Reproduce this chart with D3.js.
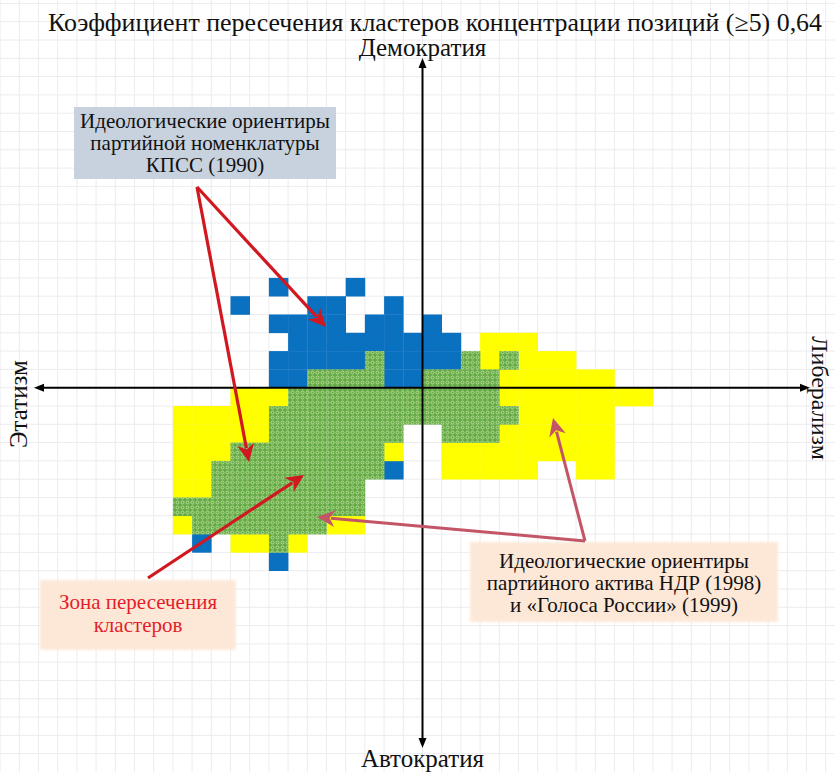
<!DOCTYPE html>
<html>
<head>
<meta charset="utf-8">
<script src="https://cdn.jsdelivr.net/npm/d3@7"></script>
<style>
  body { margin: 0; background: #fff; }
  svg { display: block; }
  text { font-family: "Liberation Serif", "DejaVu Serif", serif; }
</style>
</head>
<body>
<svg id="chart" width="835" height="772"></svg>
<script>
// Cells of the ideological-position grid, stored as runs: [row, firstCol, lastCol].
// Column 0 starts at the vertical axis and grows to the right (liberalism);
// row 0 sits just above the horizontal axis and grows upward (democracy).
const blueRuns = [
  [5, -8, -8], [5, -4, -4],
  [4, -10, -10], [4, -6, -5], [4, -2, -2],
  [3, -8, -5], [3, -3, -2], [3, 0, 0],
  [2, -7, 1],
  [1, -8, -4], [1, -2, 1],
  [0, -8, -7], [0, -2, -1],
  [-5, -2, -2],
  [-9, -12, -12],
  [-10, -8, -8]
];
const yellowRuns = [
  [2, 3, 5],
  [1, 3, 3], [1, 5, 7],
  [0, 4, 9],
  [-1, -10, -8], [-1, 4, 11],
  [-2, -13, -9], [-2, 5, 9],
  [-3, -13, -9], [-3, 4, 9],
  [-4, -13, -11], [-4, -2, -2], [-4, 1, 9],
  [-5, -13, -12], [-5, 1, 5], [-5, 8, 9],
  [-6, -13, -12],
  [-8, -13, -13], [-8, -5, -4],
  [-9, -10, -9], [-9, -7, -7]
];
const overlapRuns = [
  [1, -3, -3], [1, 2, 2], [1, 4, 4],
  [0, -6, -3], [0, 0, 3],
  [-1, -7, 3],
  [-2, -8, 4],
  [-3, -8, -2], [-3, 1, 3],
  [-4, -10, -3],
  [-5, -11, -3],
  [-6, -11, -4],
  [-7, -13, -4],
  [-8, -12, -6],
  [-9, -8, -8]
];

const titleText = "Коэффициент пересечения кластеров концентрации позиций (≥5) 0,64";
const axisLabels = { top: "Демократия", bottom: "Автократия", left: "Этатизм", right: "Либерализм" };
const nomenklaturaLines = ["Идеологические ориентиры", "партийной номенклатуры", "КПСС (1990)"];
const overlapLines = ["Зона пересечения", "кластеров"];
const activistLines = ["Идеологические ориентиры", "партийного актива НДР (1998)", "и «Голоса России» (1999)"];

const W = 835, H = 772;
const svg = d3.select("#chart");

// one grid unit on each axis
const x = d3.scaleLinear().domain([0, 1]).range([422.5, 441.7]);
const y = d3.scaleLinear().domain([0, 1]).range([387.7, 369.4]);

const defs = svg.append("defs");
const pat = defs.append("pattern")
  .attr("id", "overlapTex").attr("patternUnits", "userSpaceOnUse")
  .attr("width", 5).attr("height", 5);
pat.append("rect").attr("width", 5).attr("height", 5).attr("fill", "#66a947");
pat.append("circle").attr("cx", 2.5).attr("cy", 2.5).attr("r", 1.5)
  .attr("fill", "none").attr("stroke", "#b9e196").attr("stroke-width", 0.9);
defs.append("filter").attr("id", "soft")
  .append("feGaussianBlur").attr("stdDeviation", 1.6);

// background grid
const grid = svg.append("g").attr("stroke", "#ececf0").attr("stroke-width", 1);
d3.range(-22, 23).map(c => x(c)).filter(v => v > 0 && v < W).forEach(v =>
  grid.append("line").attr("x1", v).attr("x2", v).attr("y1", 0).attr("y2", H));
d3.range(-22, 23).map(r => y(r)).filter(v => v > 0 && v < H).forEach(v =>
  grid.append("line").attr("y1", v).attr("y2", v).attr("x1", 0).attr("x2", W));

// expand runs into cells
function cells(runs) {
  const out = [];
  runs.forEach(([r, a, b]) => { for (let c = a; c <= b; c++) out.push({ r, c }); });
  return out;
}
function drawCells(runs, fill) {
  svg.append("g").selectAll("rect").data(cells(runs)).join("rect")
    .attr("x", d => x(d.c)).attr("y", d => y(d.r + 1))
    .attr("width", d => x(d.c + 1) - x(d.c) + 0.3)
    .attr("height", d => y(d.r) - y(d.r + 1) + 0.3)
    .attr("fill", fill);
}
drawCells(blueRuns, "#0a70c0");
drawCells(yellowRuns, "#ffff00");
drawCells(overlapRuns, "url(#overlapTex)");

// axes with arrow tips
const ax = svg.append("g").attr("stroke", "#000").attr("stroke-width", 2);
const cx0 = x(0), cy0 = y(0);
ax.append("line").attr("x1", cx0).attr("x2", cx0).attr("y1", 62).attr("y2", 744);
ax.append("line").attr("y1", cy0).attr("y2", cy0).attr("x1", 38).attr("x2", 806);
const tips = svg.append("g").attr("fill", "#000");
tips.append("path").attr("d", `M${cx0},58 L${cx0 - 4},68 L${cx0 + 4},68 Z`);
tips.append("path").attr("d", `M${cx0},748 L${cx0 - 4},738 L${cx0 + 4},738 Z`);
tips.append("path").attr("d", `M34,${cy0} L44,${cy0 - 4} L44,${cy0 + 4} Z`);
tips.append("path").attr("d", `M810,${cy0} L800,${cy0 - 4} L800,${cy0 + 4} Z`);

// title and pole labels
svg.append("text").attr("x", 48).attr("y", 31)
  .attr("font-size", 25).attr("fill", "#111")
  .attr("textLength", 774).attr("lengthAdjust", "spacingAndGlyphs")
  .text(titleText);
svg.append("text").attr("x", cx0).attr("y", 56).attr("text-anchor", "middle")
  .attr("font-size", 25).attr("fill", "#111").text(axisLabels.top);
svg.append("text").attr("x", cx0).attr("y", 767).attr("text-anchor", "middle")
  .attr("font-size", 25).attr("fill", "#111").text(axisLabels.bottom);
svg.append("text").attr("transform", "translate(27,404) rotate(-90)").attr("text-anchor", "middle")
  .attr("font-size", 25).attr("fill", "#111").text(axisLabels.left);
svg.append("text").attr("transform", "translate(812,398) rotate(90)").attr("text-anchor", "middle")
  .attr("font-size", 24).attr("fill", "#111").text(axisLabels.right);

// callout boxes
function box(x0, y0, w, h, fill, lines, cx, base, step, size, color, soft) {
  const g = svg.append("g");
  const r = g.append("rect").attr("x", x0).attr("y", y0).attr("width", w).attr("height", h).attr("fill", fill);
  if (soft) r.attr("filter", "url(#soft)");
  lines.forEach((t, i) => g.append("text").attr("x", cx).attr("y", base + i * step)
    .attr("text-anchor", "middle").attr("font-size", size)
    .attr("fill", color).text(t));
}
box(74, 107, 262, 72, "#c8d2de", nomenklaturaLines, 205, 128, 22, 21, "#111", false);
box(40, 580, 196, 70, "#fde8d8", overlapLines, 138, 609, 23, 21, "#e31e2a", true);
box(470, 542, 308, 80, "#fde8d8", activistLines, 624, 568, 22, 21, "#111", true);

// pointer arrows
function arrow(x1, y1, x2, y2, color, w) {
  const ang = Math.atan2(y2 - y1, x2 - x1), L = 18, half = 8.5;
  const bx = x2 - L * Math.cos(ang), by = y2 - L * Math.sin(ang);
  svg.append("line").attr("x1", x1).attr("y1", y1)
    .attr("x2", x2 - (L - 4) * Math.cos(ang)).attr("y2", y2 - (L - 4) * Math.sin(ang))
    .attr("stroke", color).attr("stroke-width", w);
  const px = -Math.sin(ang) * half, py = Math.cos(ang) * half;
  svg.append("path")
    .attr("d", `M${x2},${y2} L${bx + px},${by + py} L${bx + L * 0.3 * Math.cos(ang)},${by + L * 0.3 * Math.sin(ang)} L${bx - px},${by - py} Z`)
    .attr("fill", color);
}
arrow(197, 187, 326, 327, "#d11820", 3.2);
arrow(197, 187, 249, 462, "#d11820", 3.2);
arrow(148, 578, 304, 475, "#d11820", 3.2);
arrow(585, 541, 317, 517, "#c45566", 3);
arrow(585, 541, 553, 418, "#c45566", 3);
</script>
</body>
</html>
